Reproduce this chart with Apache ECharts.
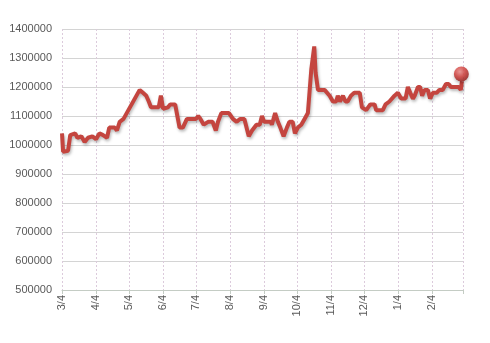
<!DOCTYPE html>
<html>
<head>
<meta charset="utf-8">
<script src="https://cdn.jsdelivr.net/npm/echarts@6/dist/echarts.min.js"></script>
<style>
html,body{margin:0;padding:0;background:#fff;}
#wrap{position:absolute;left:0;top:0;width:488px;height:341px;border:1px solid #c9d2c9;}
#chart{position:absolute;left:-1px;top:-1px;width:490px;height:343px;}
</style>
</head>
<body>
<div id="wrap"><div id="chart"></div></div>
<script>
// day offsets from 3/4 and values
const days = [0,1,5.5,7.5,9,12,14,17.6,20.6,23.7,27.6,31,34,37,41,43,48,50,52.5,56,70.7,73.7,76.7,79,81,88,90,92,96.5,98.5,103,107,110,113.7,122,124,126,129,133,137,140,142,145,152,155.6,159,162,166,170,173,177,180,182,184,190,191,194,196.5,198.7,201.7,204.7,207,210,212,214.7,217.8,220.8,223.8,226.9,229.6,230.8,233,239,243.6,246.6,249.6,251,253,255.7,258,260,263,266,271,273,276.9,280.6,284.5,286,292,294.5,298,302.7,305.7,308.7,312.7,314.8,317,319.4,321,324,326,327.8,330,333,335,337.6,341,343.5,346.5,349.5,352,354,361,363,364];
const values = [1040000,977000,980000,1034000,1040000,1040000,1025000,1030000,1010000,1025000,1030000,1020000,1040000,1035000,1025000,1060000,1060000,1050000,1080000,1090000,1190000,1180000,1170000,1150000,1130000,1130000,1170000,1125000,1130000,1140000,1140000,1060000,1060000,1090000,1090000,1100000,1090000,1070000,1080000,1080000,1050000,1080000,1110000,1110000,1090000,1080000,1090000,1090000,1030000,1050000,1070000,1070000,1100000,1080000,1080000,1070000,1110000,1080000,1060000,1030000,1060000,1080000,1080000,1040000,1060000,1070000,1090000,1110000,1260000,1340000,1250000,1190000,1190000,1170000,1150000,1150000,1170000,1150000,1170000,1150000,1150000,1170000,1180000,1180000,1130000,1120000,1140000,1140000,1120000,1120000,1140000,1150000,1170000,1180000,1160000,1160000,1200000,1180000,1160000,1170000,1200000,1200000,1170000,1190000,1190000,1160000,1180000,1180000,1190000,1190000,1210000,1210000,1200000,1200000,1190000,1220000];
const lastDay = [363.5];
const lastValue = [1245000];
const tickDays = [0,31,61,92,122,153,184,214,245,275,306,337,365];
const tickLabels = ['3/4','4/4','5/4','6/4','7/4','8/4','9/4','10/4','11/4','12/4','1/4','2/4',''];

const chart = echarts.init(document.getElementById('chart'), null, {renderer:'canvas'});
const lineData = days.map((d,i)=>[d, values[i]]);
const markData = lastDay.map((d,i)=>[d, lastValue[i]]);
const labelMap = {};
tickDays.forEach((d,i)=>labelMap[d]=tickLabels[i]);

chart.setOption({
  animation:false,
  backgroundColor:'#fff',
  grid:{left:62,right:27,top:29,bottom:53,containLabel:false},
  xAxis:{
    type:'value',min:0,max:365,
    axisLine:{show:true,lineStyle:{color:'#c4ccc4',width:1}},
    axisTick:{show:true,length:4,customValues:tickDays,lineStyle:{color:'#c4ccc4'}},
    axisLabel:{customValues:tickDays.slice(0,12),rotate:90,color:'#595959',fontFamily:'Liberation Sans',fontSize:11,margin:5,
      formatter:v=>labelMap[v]!==undefined?labelMap[v]:''},
    splitLine:{show:true,lineStyle:{color:'#dccbdc',type:[2,2],width:1}}
  },
  yAxis:{
    type:'value',min:500000,max:1400000,interval:100000,
    axisLine:{show:false},axisTick:{show:false},
    axisLabel:{color:'#595959',fontFamily:'Liberation Sans',fontSize:11,margin:10,formatter:v=>String(v)},
    splitLine:{show:true,lineStyle:{color:'#d4d4d4',width:1}}
  },
  series:[
    {type:'line',data:lineData,symbol:'none',smooth:false,
     lineStyle:{color:'#c4453f',width:4,shadowColor:'rgba(0,0,0,0.28)',shadowBlur:3,shadowOffsetX:1,shadowOffsetY:2},
     z:3},
    {type:'scatter',data:markData,symbolSize:15,z:4,
     itemStyle:{color:{type:'radial',x:0.4,y:0.35,r:0.7,colorStops:[{offset:0,color:'#f08a88'},{offset:0.5,color:'#d23a36'},{offset:1,color:'#8e1512'}]},
       shadowColor:'rgba(0,0,0,0.3)',shadowBlur:3,shadowOffsetY:2}}
  ]
});
</script>
</body>
</html>
